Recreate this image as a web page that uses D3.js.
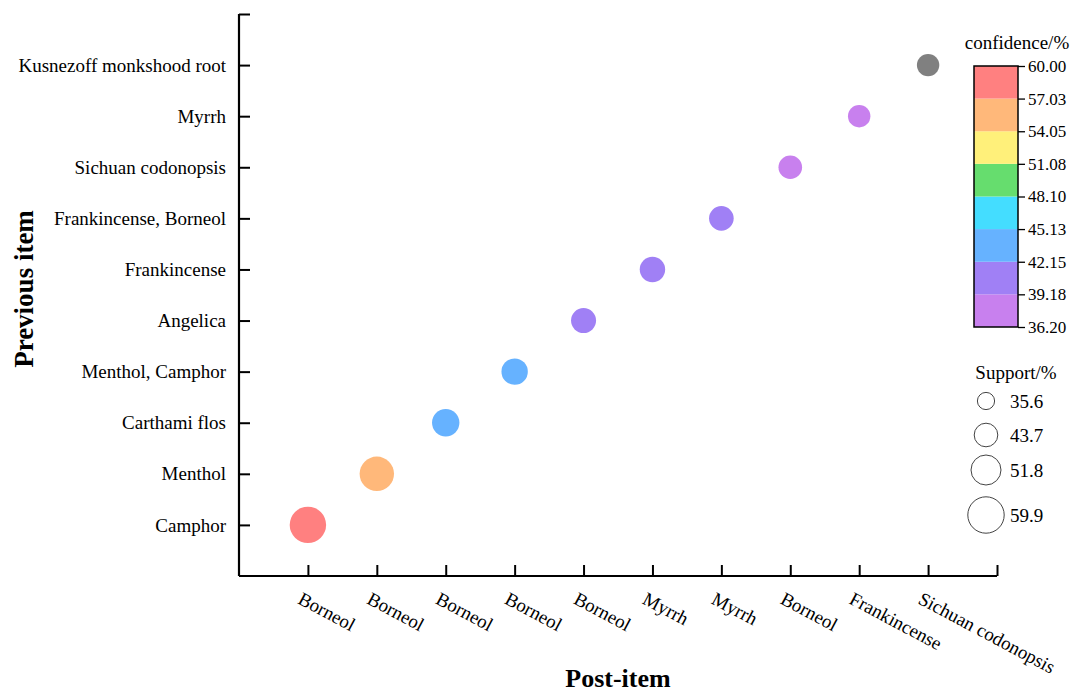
<!DOCTYPE html>
<html><head><meta charset="utf-8">
<script src="https://cdn.jsdelivr.net/npm/d3@7"></script>
<style>body{margin:0;background:#fff;} text{font-family:"Liberation Serif","Times New Roman",serif;fill:#000;}</style>
</head><body><svg id="c" width="1072" height="693"></svg>
<script>
const previousItems = ["Camphor","Menthol","Carthami flos","Menthol, Camphor","Angelica","Frankincense","Frankincense, Borneol","Sichuan codonopsis","Myrrh","Kusnezoff monkshood root"];
const postItems = ["Borneol","Borneol","Borneol","Borneol","Borneol","Myrrh","Myrrh","Borneol","Frankincense","Sichuan codonopsis"];
const support = [59.9,57.4,48.5,47.2,45.5,46.0,45.0,43.7,42.2,42.2];
const confidence = [60.0,55.6,44.0,43.5,41.0,40.6,40.2,38.0,37.0,35.9];
const confTicks = [36.20,39.18,42.15,45.13,48.10,51.08,54.05,57.03,60.00];
const confColors = ["#C880EE","#A080F5","#66B2FF","#44DDFF","#66DD6E","#FFF07A","#FFB87A","#FF8080"];
const supportTicks = [35.6,43.7,51.8,59.9];

const svg = d3.select("#c");
const L=239, R=997, T=14, B=576;
const x = d3.scaleLinear().domain([-1,10]).range([L,R]);
const y = d3.scaleLinear().domain([-1,10]).range([B,T]);
const rScale = d3.scaleLinear().domain([35.6,59.9]).range([8.6,18.2]);
const color = d3.scaleThreshold().domain(confTicks.slice(1,-1)).range(confColors);
const colorOf = v => (v < confTicks[0] || v > confTicks[confTicks.length-1]) ? "#808080" : color(v);

const idx = d3.range(previousItems.length);

// bubbles
svg.append("g").selectAll("circle").data(idx).join("circle")
  .attr("cx", i=>x(i)).attr("cy", i=>y(i)).attr("r", i=>rScale(support[i]))
  .attr("fill", i=>colorOf(confidence[i]));

// axes
const xAxis = d3.axisBottom(x).tickValues(d3.range(-1,11)).tickSize(-11).tickFormat("");
const gx = svg.append("g").attr("transform",`translate(0,${B})`).call(xAxis);
const yAxis = d3.axisLeft(y).tickValues(d3.range(-1,11)).tickSize(-11).tickFormat("");
const gy = svg.append("g").attr("transform",`translate(${L},0)`).call(yAxis);
[gx,gy].forEach(g=>{
  g.select(".domain").attr("stroke","#000").attr("stroke-width",2.2).attr("d", g===gx?`M${L},0H${R}`:`M0,${T}V${B}`);
  g.selectAll(".tick line").attr("stroke","#000").attr("stroke-width",2);
});
gx.selectAll(".tick").filter(d=>d===-1).remove();
gy.selectAll(".tick").filter(d=>d===-1).remove();

// y labels
svg.append("g").selectAll("text").data(idx).join("text")
  .attr("x",226).attr("y",i=>y(i)).attr("dy","0.35em").attr("text-anchor","end")
  .attr("font-size",19).text(i=>previousItems[i]);
// x labels
svg.append("g").selectAll("text").data(idx).join("text")
  .attr("transform",i=>`translate(${x(i)-8},${B+21}) rotate(28)`)
  .attr("text-anchor","start").attr("dy","0.35em")
  .attr("font-size",19).text(i=>postItems[i]);

// axis titles
svg.append("text").attr("x",618).attr("y",687).attr("text-anchor","middle")
  .attr("font-size",26).attr("font-weight","bold").text("Post-item");
svg.append("text").attr("transform",`translate(33,289) rotate(-90)`).attr("text-anchor","middle")
  .attr("font-size",27).attr("font-weight","bold").text("Previous item");

// colour legend
const cbX=974, cbW=44, cbT=66, cbB=327;
const cy = d3.scaleLinear().domain([confTicks[0],confTicks[confTicks.length-1]]).range([cbB,cbT]);
const cg = svg.append("g");
cg.selectAll("rect").data(confColors).join("rect")
  .attr("x",cbX).attr("width",cbW)
  .attr("y",(c,i)=>cy(confTicks[i+1])).attr("height",(c,i)=>cy(confTicks[i])-cy(confTicks[i+1]))
  .attr("fill",c=>c);
cg.append("rect").attr("x",cbX).attr("y",cbT).attr("width",cbW).attr("height",cbB-cbT)
  .attr("fill","none").attr("stroke","#000").attr("stroke-width",1.5);
const cAxis = d3.axisRight(cy).tickValues(confTicks).tickSize(7).tickFormat(d3.format(".2f"));
const gc = svg.append("g").attr("transform",`translate(${cbX+cbW},0)`).call(cAxis);
gc.select(".domain").remove();
gc.selectAll(".tick line").attr("stroke","#000").attr("stroke-width",1.3);
gc.selectAll(".tick text").attr("font-size",17).attr("x",10).attr("font-family","Liberation Serif");
svg.append("text").attr("x",1017).attr("y",49).attr("text-anchor","middle").attr("font-size",19).text("confidence/%");

// size legend
svg.append("text").attr("x",1016).attr("y",379).attr("text-anchor","middle").attr("font-size",19).text("Support/%");
const legY = [401,435,470,515];
const sg = svg.append("g").selectAll("g").data(supportTicks).join("g")
  .attr("transform",(d,i)=>`translate(986,${legY[i]})`);
sg.append("circle").attr("r",d=>rScale(d)).attr("fill","none").attr("stroke","#444").attr("stroke-width",1);
sg.append("text").attr("x",24).attr("dy","0.35em").attr("font-size",19).text(d=>d.toFixed(1));
</script></body></html>
